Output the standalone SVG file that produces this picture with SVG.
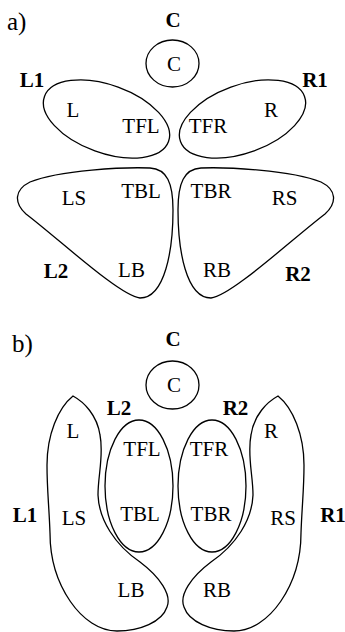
<svg xmlns="http://www.w3.org/2000/svg" width="345" height="632" viewBox="0 0 345 632">
<style>
.s{fill:none;stroke:#000;stroke-width:1.3}
text{font-family:"Liberation Serif","Times New Roman",serif;font-size:21px;fill:#000;text-anchor:middle}
.b{font-weight:bold}
.p{font-size:25px;text-anchor:start}
</style>
<rect width="345" height="632" fill="#fff"/>
<!-- part a -->
<text class="p" x="7" y="30">a)</text>
<g id="a-C">
<text class="b" x="173" y="27">C</text>
<ellipse class="s" cx="172.5" cy="63.5" rx="26.5" ry="23.5"/>
<text x="174" y="71">C</text>
</g>
<g id="a-L1">
<text class="b" x="32" y="87">L1</text>
<ellipse class="s" cx="106.5" cy="119" rx="66" ry="34" transform="rotate(20 106.5 119)"/>
<text x="73" y="117">L</text>
<text x="141" y="133">TFL</text>
</g>
<g id="a-R1">
<text class="b" x="315" y="87">R1</text>
<ellipse class="s" cx="242.5" cy="119" rx="66" ry="34" transform="rotate(-20 242.5 119)"/>
<text x="208" y="133">TFR</text>
<text x="271" y="117">R</text>
</g>
<g id="a-L2">
<path class="s" d="M140,298 C120,296 60,240 26,214 C14,203 14,190 30,182 C60,170 125,167 150,168 C167,169 173,183 173,210 C173,250 165,298 140,298 Z"/>
<text x="74" y="205">LS</text>
<text x="141" y="198">TBL</text>
<text x="131.5" y="277">LB</text>
<text class="b" x="56" y="278">L2</text>
</g>
<g id="a-R2">
<path class="s" transform="translate(351,0) scale(-1,1)" d="M140,298 C120,296 60,240 26,214 C14,203 14,190 30,182 C60,170 125,167 150,168 C167,169 173,183 173,210 C173,250 165,298 140,298 Z"/>
<text x="211" y="198">TBR</text>
<text x="284.5" y="205">RS</text>
<text x="217" y="277">RB</text>
<text class="b" x="298" y="281">R2</text>
</g>
<!-- part b -->
<text class="p" x="12" y="352">b)</text>
<g id="b-C">
<text class="b" x="173" y="346">C</text>
<ellipse class="s" cx="172.5" cy="385" rx="26.5" ry="24"/>
<text x="174" y="392">C</text>
</g>
<g id="b-L2">
<text class="b" x="119" y="415">L2</text>
<ellipse class="s" cx="139" cy="486" rx="34" ry="66"/>
<text x="142" y="456">TFL</text>
<text x="140" y="521">TBL</text>
</g>
<g id="b-R2">
<text class="b" x="235.5" y="415">R2</text>
<ellipse class="s" cx="212" cy="486" rx="34" ry="66"/>
<text x="209" y="456">TFR</text>
<text x="211" y="521">TBR</text>
</g>
<g id="b-L1">
<text class="b" x="25" y="522">L1</text>
<path class="s" d="M73,396 C84,402 97,415 100,435 C104,455 98,475 98,495 C99,520 115,545 140,562 C160,577 172,595 167,607 C162,622 140,631 117,631 C82,631 50,585 50,533 C49,505 47,490 47,465 C47,435 58,408 73,396 Z"/>
<text x="73" y="438">L</text>
<text x="74" y="525">LS</text>
<text x="131" y="597">LB</text>
</g>
<g id="b-R1">
<text class="b" x="333" y="522">R1</text>
<path class="s" transform="translate(351,0) scale(-1,1)" d="M73,396 C84,402 97,415 100,435 C104,455 98,475 98,495 C99,520 115,545 140,562 C160,577 172,595 167,607 C162,622 140,631 117,631 C82,631 50,585 50,533 C49,505 47,490 47,465 C47,435 58,408 73,396 Z"/>
<text x="271" y="438">R</text>
<text x="283" y="525">RS</text>
<text x="217" y="597">RB</text>
</g>
</svg>
